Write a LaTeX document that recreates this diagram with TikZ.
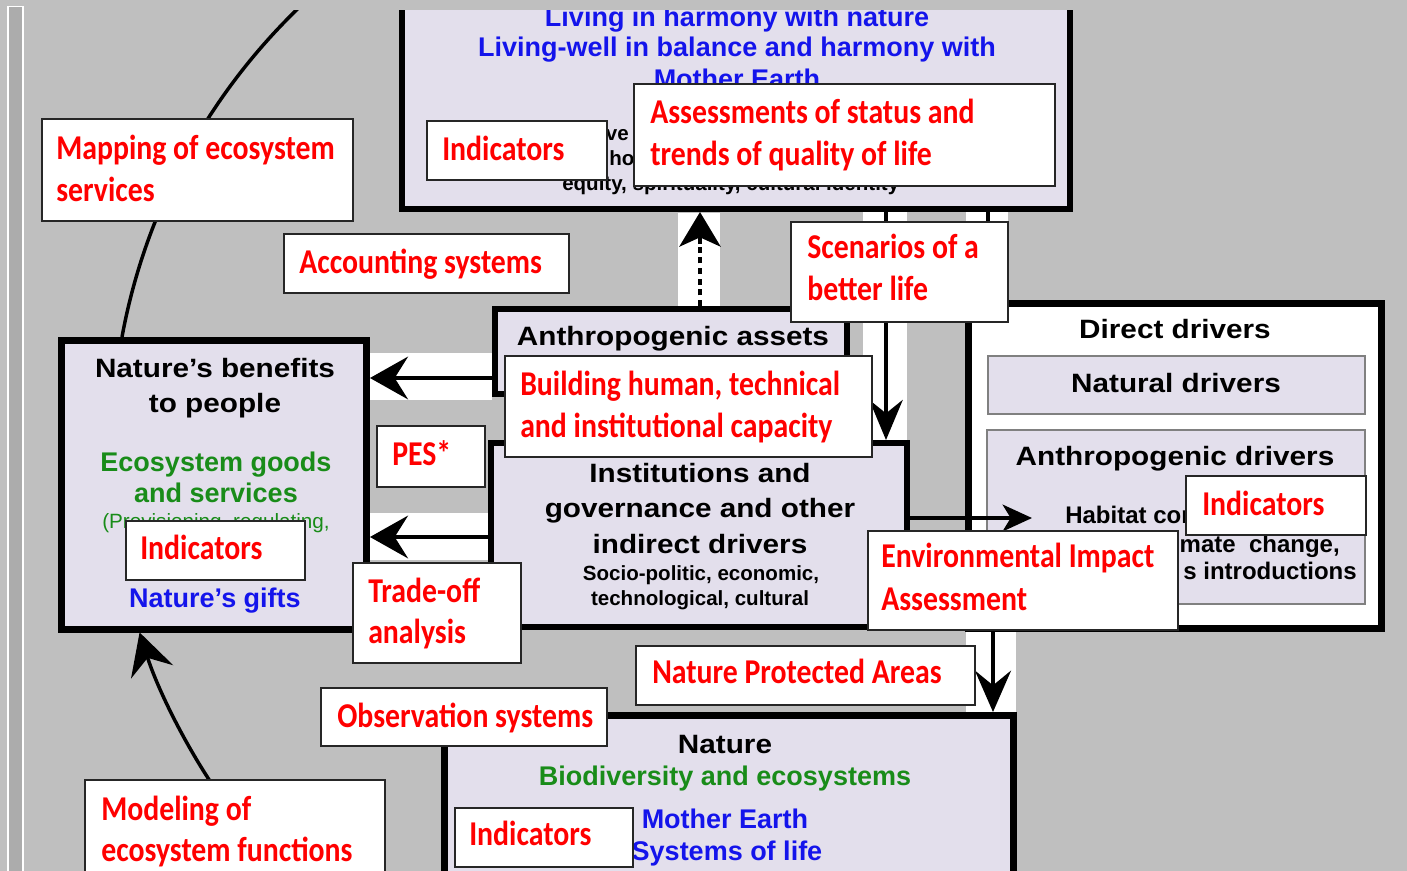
\documentclass[tikz,border=0pt]{standalone}
\usepackage{fontspec}
\setmainfont{Liberation Sans}
\newfontfamily\hdfont[FakeStretch=1.12]{Liberation Sans}
\newfontfamily\rdfont[FakeStretch=0.856]{Carlito}
\usetikzlibrary{arrows.meta,fit,calc}
\definecolor{bg}{RGB}{191,191,191}
\definecolor{lav}{RGB}{227,223,236}
\definecolor{rd}{RGB}{255,0,0}
\definecolor{bl}{RGB}{20,20,235}
\definecolor{gr}{RGB}{25,140,25}
\definecolor{stripgray}{RGB}{172,172,172}
\tikzset{
  tbox/.style={draw=black, line width=4.5pt, fill=lav, inner sep=0pt},
  ibox/.style={draw=black!50, line width=1.5pt, fill=lav, inner sep=0pt},
  lbox/.style={draw=black!85, line width=1.2pt, fill=white, inner sep=0pt},
  hd/.style={font=\hdfont\bfseries\fontsize{19.9}{24}\selectfont, text=black, inner sep=0pt, anchor=base},
  st/.style={font=\bfseries\fontsize{15.4}{18}\selectfont, text=black, inner sep=0pt, anchor=base},
  dt/.style={font=\bfseries\fontsize{18}{21}\selectfont, text=black, inner sep=0pt},
  bt/.style={font=\bfseries\fontsize{20.25}{24}\selectfont, text=bl, inner sep=0pt, anchor=base},
  gt/.style={font=\bfseries\fontsize{20.25}{24}\selectfont, text=gr, inner sep=0pt, anchor=base},
  rt/.style={font=\rdfont\bfseries\fontsize{26.1}{31.5}\selectfont, text=rd, inner sep=0pt, anchor=base west},
  band/.style={fill=white, draw=none},
  shaft/.style={line width=3pt, draw=black},
  bigleft/.style={-{Stealth[length=28.5pt,width=32pt,inset=10pt]}},
  bigdown/.style={-{Stealth[length=30pt,width=25pt,inset=10pt]}},
  arcline/.style={line width=2.6pt, draw=black},
}
\begin{document}
\begin{tikzpicture}[x=0.75pt,y=0.75pt]
\useasboundingbox (0,0) rectangle (1407,-871);
\clip (0,0) rectangle (1407,-871);
\fill[bg] (0,0) rectangle (1407,-871);

% white bands behind arrows
\fill[band] (678,-213) rectangle (720,-306);
\fill[band] (863,-212) rectangle (907,-440);
\fill[band] (966,-212) rectangle (1008,-300);
\fill[band] (370,-353) rectangle (492,-400);
\fill[band] (370,-513) rectangle (488,-560);
\fill[band] (966,-632) rectangle (1016,-712);

% main boxes
\node[tbox, fit={(402,20) (1070,-209)}] (qolbox) {};
\node[bt] (qol1) at (737,-26) {Living in harmony with nature};
\node[bt] (qol2) at (737,-56) {Living-well in balance and harmony with};
\node[bt] (qol3) at (737,-88) {Mother Earth};
\node[st, anchor=base east] (qol4) at (629,-140) {ve};
\node[st, anchor=base west] (qol5) at (609,-165) {ho};
\node[st, anchor=base west] (qol6) at (562,-190) {equity, spirituality, cultural identity};

\node[tbox, fit={(495,-309) (847,-394)}] (aabox) {};
\node[hd] (aatxt) at (673,-345) {Anthropogenic assets};

\node[tbox, fit={(491,-443) (907,-627)}] (instbox) {};
\node[hd] (inst1) at (700,-482) {Institutions and};
\node[hd] (inst2) at (700,-517) {governance and other};
\node[hd] (inst3) at (700,-553) {indirect drivers};
\node[st] (inst4) at (701,-580) {Socio-politic, economic,};
\node[st] (inst5) at (700,-605) {technological, cultural};

\node[tbox, line width=5.25pt, fit={(61.5,-340.5) (366.5,-629.5)}] (nbbox) {};
\node[hd] (nb1) at (215,-377) {Nature’s benefits};
\node[hd] (nb2) at (215,-412) {to people};
\node[gt] (nb3) at (216,-471) {Ecosystem goods};
\node[gt] (nb4) at (216,-502) {and services};
\node[font=\fontsize{15.5}{18}\selectfont, text=gr, inner sep=0pt, anchor=base] (nb5) at (216,-528) {(Provisioning, regulating,};
\node[bt] (nb6) at (215,-607) {Nature’s gifts};

\node[tbox, line width=5.25pt, fill=white, fit={(968.5,-303.5) (1381.5,-628.5)}] (drvbox) {};
\node[hd] (drv1) at (1175,-338) {Direct drivers};
\node[ibox, fit={(988,-356) (1365,-414)}] (natdrv) {};
\node[hd] (drv2) at (1176,-392) {Natural drivers};
\node[ibox, fit={(987,-430) (1365,-604)}] (antdrv) {};
\node[hd] (drv3) at (1175,-465) {Anthropogenic drivers};
\node[dt, anchor=base west] (drv4) at (1065,-523) {Habitat con};
\node[dt, anchor=base east] (drv5) at (1340,-552) {imate\ \ change,};
\node[dt, anchor=base east] (drv6) at (1357,-579) {s introductions};

\node[tbox, line width=5.25pt, fit={(444.5,-715.5) (1013.5,-900)}] (natbox) {};
\node[hd] (nat1) at (725,-753) {Nature};
\node[gt] (nat2) at (725,-785) {Biodiversity and ecosystems};
\node[bt] (nat3) at (725,-828) {Mother Earth};
\node[bt] (nat4) at (727,-860) {Systems of life};

% arcs of the outer loop
\draw[arcline] (nbbox.north -| 122,0) arc[start angle=169.6, end angle=126, radius=610];
\draw[arcline, -{Stealth[length=31pt,width=33pt,inset=11pt]}] (209.4,-780.2) arc[start angle=213, end angle=197.6, radius=610];

% arrows
\draw[shaft, bigleft] (aabox.west |- 0,-378) -- (nbbox.east |- 0,-378);
\draw[shaft, bigleft] (instbox.west |- 0,-537) -- (nbbox.east |- 0,-537);
\draw[line width=2.6pt, dash pattern=on 4.5pt off 3.5pt] (aabox.north -| 700,0) -- (700,-246);
\draw[line width=2.6pt, -{Stealth[length=26pt,width=31pt,inset=7pt]}] (700,-244) -- (qolbox.south -| 700,0);
\draw[shaft, bigdown] (qolbox.south -| 886,0) -- (instbox.north -| 886,0);
\draw[shaft] (qolbox.south -| 988,0) -- (drvbox.north -| 988,0);
\coordinate (habtip) at (1032,-518);
\draw[shaft, -{Stealth[length=22pt,width=20pt,inset=6pt]}] (instbox.east |- 0,-518) -- (habtip);
\draw[shaft, -{Stealth[length=31pt,width=27pt,inset=11pt]}] (drvbox.south -| 993,0) -- (natbox.north -| 993,0);

% red labels
\node[lbox, fit={(42,-119) (353,-221)}] (mapbox) {};
\node[rt] (map1) at (56,-159) {Mapping of ecosystem};
\node[rt] (map2) at (56,-201) {services};
\node[lbox, fit={(284,-234) (569,-293)}] (accbox) {};
\node[rt] (acc1) at (299,-273) {Accounting systems};
\node[lbox, fit={(427,-121) (607,-180)}] (indAbox) {};
\node[rt] (indA) at (442,-160) {Indicators};
\node[lbox, fit={(634,-84) (1055,-186)}] (assbox) {};
\node[rt] (ass1) at (650,-123) {Assessments of status and};
\node[rt] (ass2) at (650,-165) {trends of quality of life};
\node[lbox, fit={(791,-222) (1008,-322)}] (scnbox) {};
\node[rt] (scn1) at (807,-258) {Scenarios of a};
\node[rt] (scn2) at (807,-300) {better life};
\node[lbox, fit={(505,-356) (872,-457)}] (bldbox) {};
\node[rt] (bld1) at (520,-395) {Building human, technical};
\node[rt] (bld2) at (520,-437) {and institutional capacity};
\node[lbox, fit={(377,-426) (485,-487)}] (pesbox) {};
\node[rt] (pes) at (392,-465) {PES*};
\node[lbox, fit={(126,-521) (305,-580)}] (indBbox) {};
\node[rt] (indB) at (140,-559) {Indicators};
\node[lbox, fit={(353,-563) (521,-663)}] (tobox) {};
\node[rt] (to1) at (368,-602) {Trade-off};
\node[rt] (to2) at (368,-643) {analysis};
\node[lbox, fit={(1186,-476) (1366,-535)}] (indCbox) {};
\node[rt] (indC) at (1202,-515) {Indicators};
\node[lbox, fit={(868,-531) (1178,-630)}] (eiabox) {};
\node[rt] (eia1) at (881,-567) {Environmental Impact};
\node[rt] (eia2) at (881,-610) {Assessment};
\node[lbox, fit={(636,-646) (975,-705)}] (npabox) {};
\node[rt] (npa) at (652,-683) {Nature Protected Areas};
\node[lbox, fit={(321,-688) (607,-746)}] (obsbox) {};
\node[rt] (obs) at (337,-727) {Observation systems};
\node[lbox, fit={(85,-780) (385,-890)}] (modbox) {};
\node[rt] (mod1) at (101,-820) {Modeling of};
\node[rt] (mod2) at (101,-861) {ecosystem functions};
\node[lbox, fit={(455,-808) (633,-867)}] (indDbox) {};
\node[rt] (indD) at (469,-845) {Indicators};

% top band and left strip
\fill[bg] (0,0) rectangle (1407,-10);
\fill[white] (6.5,-6) rectangle (24,-871);
\fill[stripgray] (8.5,-7) rectangle (21.5,-871);
\end{tikzpicture}
\end{document}
